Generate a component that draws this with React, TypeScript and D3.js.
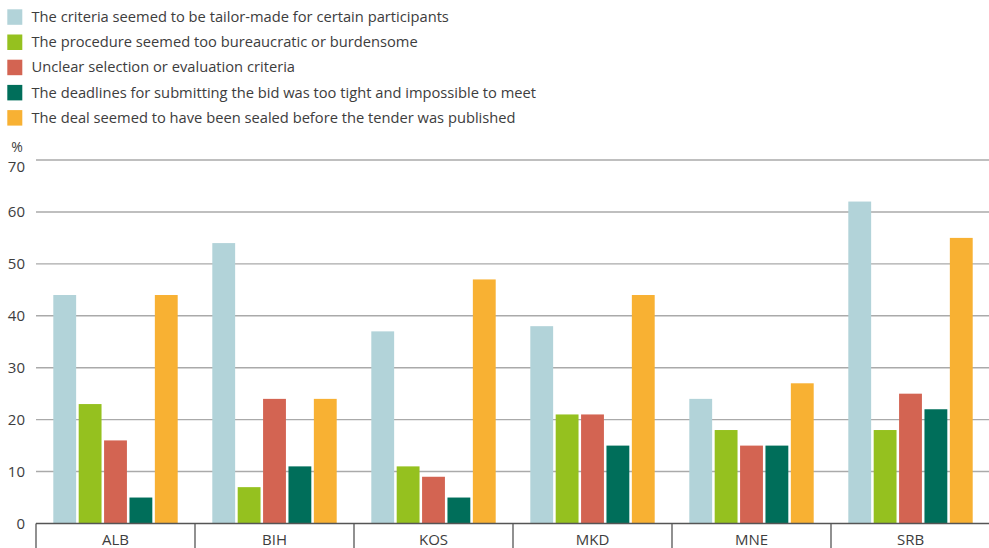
import React from "react";
import * as d3 from "d3";

const categories = ["ALB", "BIH", "KOS", "MKD", "MNE", "SRB"];
const seriesNames = [
  "The criteria seemed to be tailor-made for certain participants",
  "The procedure seemed too bureaucratic or burdensome",
  "Unclear selection or evaluation criteria",
  "The deadlines for submitting the bid was too tight and impossible to meet",
  "The deal seemed to have been sealed before the tender was published",
];
const seriesColors = ["#b2d3d9", "#95c11f", "#d36452", "#006e5a", "#f8b133"];
const tailorMade = [44, 54, 37, 38, 24, 62];
const bureaucratic = [23, 7, 11, 21, 18, 18];
const unclear = [16, 24, 9, 21, 15, 25];
const deadlines = [5, 11, 5, 15, 15, 22];
const sealed = [44, 24, 47, 44, 27, 55];
const yTicks = [0, 10, 20, 30, 40, 50, 60, 70];

const series = [tailorMade, bureaucratic, unclear, deadlines, sealed];

const W = 989;
const H = 548;
const left = 36;
const right = 990;
const y0 = 523.5;
const yTop = 160;
const font = "'Open Sans', sans-serif";
const textColor = "#3d3d3d";

export default function App() {
  const x = d3.scaleBand<string>().domain(categories).range([left, right]).paddingInner(0).paddingOuter(0);
  const bw = x.bandwidth();
  const x1 = d3
    .scaleBand<number>()
    .domain(d3.range(series.length))
    .range([17.3, bw - 17.3])
    .paddingInner(0.1)
    .paddingOuter(0);
  const y = d3.scaleLinear().domain([0, 70]).range([y0, yTop]);

  return (
    <svg width={W} height={H} style={{ position: "absolute", left: 0, top: 0, background: "#fff" }}>
      {/* legend */}
      {seriesNames.map((n, i) => (
        <g key={n} transform={`translate(0, ${9.3 + i * 25.2})`}>
          <rect x={7.3} y={0} width={15} height={15.5} fill={seriesColors[i]} />
          <text x={31.5} y={12.7} fontFamily={font} fontSize={14.7} fill={textColor}>
            {n}
          </text>
        </g>
      ))}
      {/* gridlines */}
      {yTicks.filter((t) => t > 0).map((t) => (
        <line key={t} x1={left} x2={W} y1={y(t)} y2={y(t)} stroke="#aaaaaa" strokeWidth={1.4} />
      ))}
      {/* y labels */}
      {yTicks.map((t) => (
        <text
          key={t}
          x={25}
          y={y(t) + (t === 70 ? 11.5 : 5)}
          textAnchor="end"
          fontFamily={font}
          fontSize={15}
          fill={textColor}
        >
          {t}
        </text>
      ))}
      <text x={17} y={152} textAnchor="middle" fontFamily={font} fontSize={14} fill={textColor}>
        %
      </text>
      {/* bars */}
      {categories.map((c, ci) => (
        <g key={c} transform={`translate(${x(c)},0)`}>
          {series.map((s, si) => (
            <rect
              key={si}
              x={x1(si)}
              y={y(s[ci])}
              width={x1.bandwidth()}
              height={y0 - y(s[ci])}
              fill={seriesColors[si]}
            />
          ))}
        </g>
      ))}
      {/* axis */}
      <line x1={left} x2={W} y1={y0} y2={y0} stroke="#555" strokeWidth={1.5} />
      {categories.map((c) => (
        <line key={c} x1={x(c)!} x2={x(c)!} y1={y0} y2={H} stroke="#555" strokeWidth={1.3} />
      ))}
      <line x1={right} x2={right} y1={y0} y2={H} stroke="#555" strokeWidth={1.3} />
      {categories.map((c) => (
        <text
          key={c}
          x={x(c)! + bw / 2}
          y={544.5}
          textAnchor="middle"
          fontFamily={font}
          fontSize={15}
          fill={textColor}
        >
          {c}
        </text>
      ))}
    </svg>
  );
}
